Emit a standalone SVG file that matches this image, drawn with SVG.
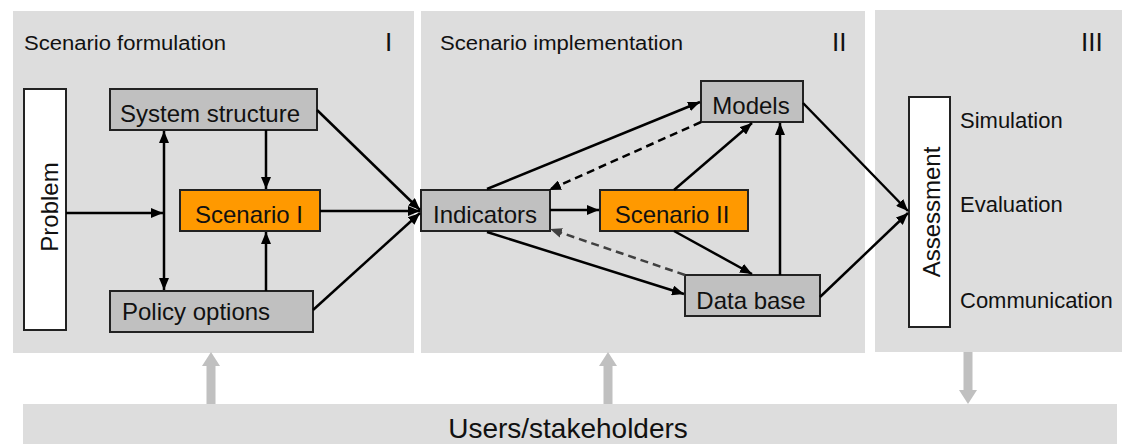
<svg xmlns="http://www.w3.org/2000/svg" width="1122" height="444" viewBox="0 0 1122 444">
<style>
.panel{fill:#dddddd}
.node{stroke:#222;stroke-width:2}
.grey{fill:#c0c0c0}
.orange{fill:#ff9900}
.white{fill:#ffffff}
text{font-family:"Liberation Sans",Arial,sans-serif;fill:#111}
.t24{font-size:24px}
.title{font-size:20px}
.roman{font-size:26px}
.lab{font-size:22px}
.c{fill:none;stroke:#000;stroke-width:2.5}
.dash{stroke-dasharray:8,5}
.big{fill:#c0c0c0}
</style>
<defs>
<marker id="ah" markerUnits="userSpaceOnUse" markerWidth="12" markerHeight="10" refX="12" refY="5" orient="auto-start-reverse" viewBox="0 0 12 10">
<path d="M0,0 L12,5 L0,10 z" fill="#000"/>
</marker>
<marker id="ahg" markerUnits="userSpaceOnUse" markerWidth="12" markerHeight="10" refX="12" refY="5" orient="auto" viewBox="0 0 12 10">
<path d="M0,0 L12,5 L0,10 z" fill="#404040"/>
</marker>
</defs>

<g id="panels">
<rect class="panel" x="13" y="11" width="401" height="342"/>
<rect class="panel" x="421" y="11" width="444" height="342"/>
<rect class="panel" x="875" y="10" width="247" height="342"/>
<text class="title" x="24" y="50" textLength="202" lengthAdjust="spacingAndGlyphs">Scenario formulation</text>
<text class="roman" x="385" y="51">I</text>
<text class="title" x="440" y="50" textLength="243" lengthAdjust="spacingAndGlyphs">Scenario implementation</text>
<text class="roman" x="832" y="51">II</text>
<text class="roman" x="1081" y="51">III</text>
</g>

<g id="problem">
<rect class="node white" x="24" y="89" width="42" height="241"/>
<text class="t24" transform="translate(58,207) rotate(-90)" text-anchor="middle">Problem</text>
</g>
<g id="system-structure">
<rect class="node grey" x="110" y="89" width="207" height="41"/>
<text class="t24" x="210" y="122" text-anchor="middle">System structure</text>
</g>
<g id="scenario-1">
<rect class="node orange" x="180" y="190" width="140" height="41"/>
<text class="t24" x="249" y="223" text-anchor="middle">Scenario I</text>
</g>
<g id="policy-options">
<rect class="node grey" x="110" y="291" width="203" height="41"/>
<text class="t24" x="122" y="320">Policy options</text>
</g>
<g id="indicators">
<rect class="node grey" x="421" y="190" width="129" height="41"/>
<text class="t24" x="433" y="223">Indicators</text>
</g>
<g id="scenario-2">
<rect class="node orange" x="600" y="190" width="148" height="41"/>
<text class="t24" x="672" y="223" text-anchor="middle">Scenario II</text>
</g>
<g id="models">
<rect class="node grey" x="701" y="81" width="102" height="41"/>
<text class="t24" x="751" y="114" text-anchor="middle">Models</text>
</g>
<g id="data-base">
<rect class="node grey" x="685" y="275" width="135" height="41"/>
<text class="t24" x="751" y="309" text-anchor="middle">Data base</text>
</g>
<g id="assessment">
<rect class="node white" x="909" y="97" width="41" height="230"/>
<text class="t24" transform="translate(940,212) rotate(-90)" text-anchor="middle">Assessment</text>
<text class="lab" x="960" y="128">Simulation</text>
<text class="lab" x="960" y="212">Evaluation</text>
<text class="lab" x="960" y="308">Communication</text>
</g>
<g id="users">
<rect class="panel" x="23" y="404" width="1094" height="40"/>
<text x="568" y="438" text-anchor="middle" style="font-size:28px">Users/stakeholders</text>
</g>

<g id="connectors">
<path class="c" d="M66,213 L163,213" marker-end="url(#ah)"/>
<path class="c" d="M164,131 L164,290" marker-start="url(#ah)" marker-end="url(#ah)"/>
<path class="c" d="M266,130 L266,189" marker-end="url(#ah)"/>
<path class="c" d="M266,291 L266,232" marker-end="url(#ah)"/>
<path class="c" d="M317,110 L420,210" marker-end="url(#ah)"/>
<path class="c" d="M320,211 L420,211" marker-end="url(#ah)"/>
<path class="c" d="M313,310 L420,213" marker-end="url(#ah)"/>
<path class="c" d="M550,210 L599,210" marker-end="url(#ah)"/>
<path class="c" d="M487,189 L700,102" marker-end="url(#ah)"/>
<path class="c dash" d="M701,122 L549,190" marker-end="url(#ah)"/>
<path class="c" d="M487,232 L684,294" marker-end="url(#ah)"/>
<path class="c dash" style="stroke:#404040" d="M685,275 L550,229" marker-end="url(#ahg)"/>
<path class="c" d="M674,190 L752,123" marker-end="url(#ah)"/>
<path class="c" d="M674,231 L752,274" marker-end="url(#ah)"/>
<path class="c" d="M780,275 L780,123" marker-end="url(#ah)"/>
<path class="c" d="M803,103 L908,211" marker-end="url(#ah)"/>
<path class="c" d="M820,297 L908,213" marker-end="url(#ah)"/>
<g id="user-arrows">
<rect class="big" x="206.5" y="364" width="9" height="40"/>
<polygon class="big" points="202,366 220,366 211,352"/>
<rect class="big" x="603.5" y="364" width="9" height="40"/>
<polygon class="big" points="599,366 617,366 608,352"/>
<rect class="big" x="963.5" y="352" width="9" height="40"/>
<polygon class="big" points="959,390 977,390 968,404"/>
</g>
</g>
</svg>
